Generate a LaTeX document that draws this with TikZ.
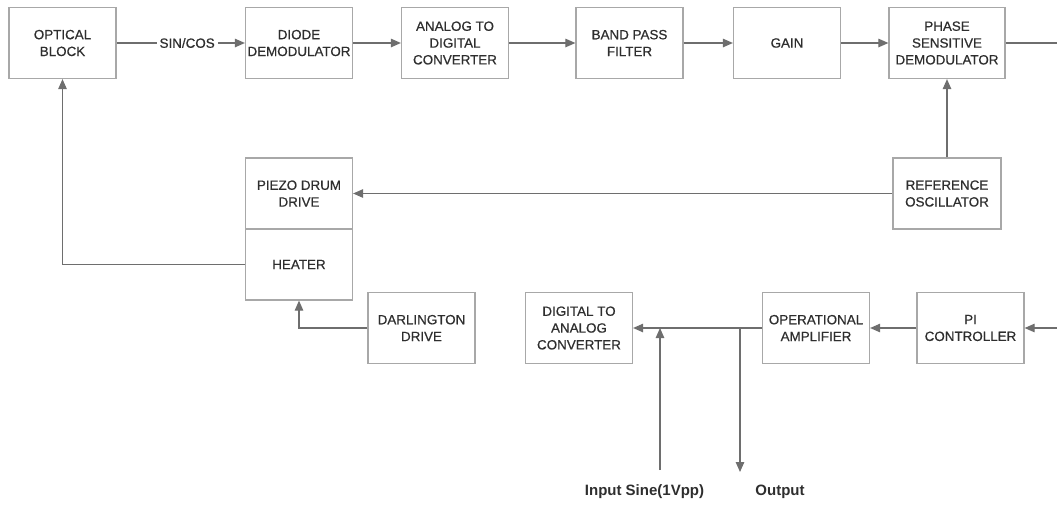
\documentclass[tikz,border=0pt]{standalone}
\usepackage{fontspec}
\setmainfont{Liberation Sans}
\newfontfamily\blockfont[FakeBold=0.6]{Liberation Sans}
\usetikzlibrary{arrows.meta,positioning}
\definecolor{boxgray}{HTML}{A8A8A8}
\definecolor{linegray}{HTML}{6E6E6E}
\definecolor{textgray}{HTML}{2E2E2E}

\begin{document}
\begin{tikzpicture}[x=1pt, y=1pt, on grid,
    font=\blockfont\fontsize{13.4}{16.8}\selectfont]

    \useasboundingbox (0,0) rectangle (1057,-504);

    % Styles for blocks and connectors
    \tikzstyle{bloque}=[draw=boxgray, line width=1.2pt, text=textgray, align=center,
        minimum width=107pt, minimum height=71pt, inner sep=1pt]
    \tikzstyle{linea}=[draw=linegray, line width=1.1pt]
    \tikzstyle{flecha}=[linea, -{Triangle[length=10pt,width=8.5pt]}]
    \tikzstyle{etiqueta}=[text=textgray, font=\fontsize{15}{18}\selectfont\bfseries]

    % Top row: signal chain
    \node[bloque] (opt) at (62.5,-43) {OPTICAL\\BLOCK};
    \node[bloque] (diode) [right=236.5pt of opt] {DIODE\\DEMODULATOR};
    \node[bloque] (adc) [right=156pt of diode] {ANALOG TO\\DIGITAL\\CONVERTER};
    \node[bloque] (bpf) [right=174.5pt of adc] {BAND PASS\\FILTER};
    \node[bloque] (gain) [right=157.5pt of bpf] {GAIN};
    \node[bloque, minimum width=116pt] (psd) [right=160pt of gain] {PHASE\\SENSITIVE\\DEMODULATOR};

    % Middle row: actuators and oscillator
    \node[bloque] (piezo) [below=150.5pt of diode] {PIEZO DRUM\\DRIVE};
    \node[bloque] (heat) [below=71pt of piezo] {HEATER};
    \node[bloque, minimum width=108pt] (osc) [below=150.5pt of psd] {REFERENCE\\OSCILLATOR};

    % Bottom row: control loop
    \node[bloque] (pi) at (970.5,-328) {PI\\CONTROLLER};
    \node[bloque] (opamp) [left=154.5pt of pi] {OPERATIONAL\\AMPLIFIER};
    \node[bloque] (dac) [left=237pt of opamp] {DIGITAL TO\\ANALOG\\CONVERTER};
    \node[bloque] (darl) [left=157.5pt of dac] {DARLINGTON\\DRIVE};

    % Free ends and junctions
    \coordinate (psdout) at (1057,-43);
    \coordinate (piin) at (1057,-328);
    \coordinate[right=81pt of dac] (injc);
    \coordinate[right=161pt of dac] (outc);
    \coordinate[below=142pt of injc] (inbot);
    \coordinate[below=144pt of outc] (outbot);

    % Signal and output labels
    \node[etiqueta] (inlab) at (644.5,-492) {Input Sine(1Vpp)};
    \node[etiqueta] (outlab) at (780,-492) {Output};

    % Connectors
    \path
        (opt) edge[flecha] node[pos=0.55, fill=white, inner sep=3pt, text=textgray] {SIN/COS} (diode)
        (diode) edge[flecha] (adc)
        (adc) edge[flecha] (bpf)
        (bpf) edge[flecha] (gain)
        (gain) edge[flecha] (psd)
        (osc) edge[flecha] (psd)
        (osc) edge[flecha] (piezo)
        (piin) edge[flecha] (pi)
        (pi) edge[flecha] (opamp)
        (opamp) edge[flecha] (dac)
        (inbot) edge[flecha] (injc)
        (outc) edge[flecha] (outbot)
        (psd) edge[linea] (psdout);
    \draw[flecha] (heat.west) -| (opt.south);
    \draw[flecha] (darl.west) -| (heat.south);
\end{tikzpicture}
\end{document}
